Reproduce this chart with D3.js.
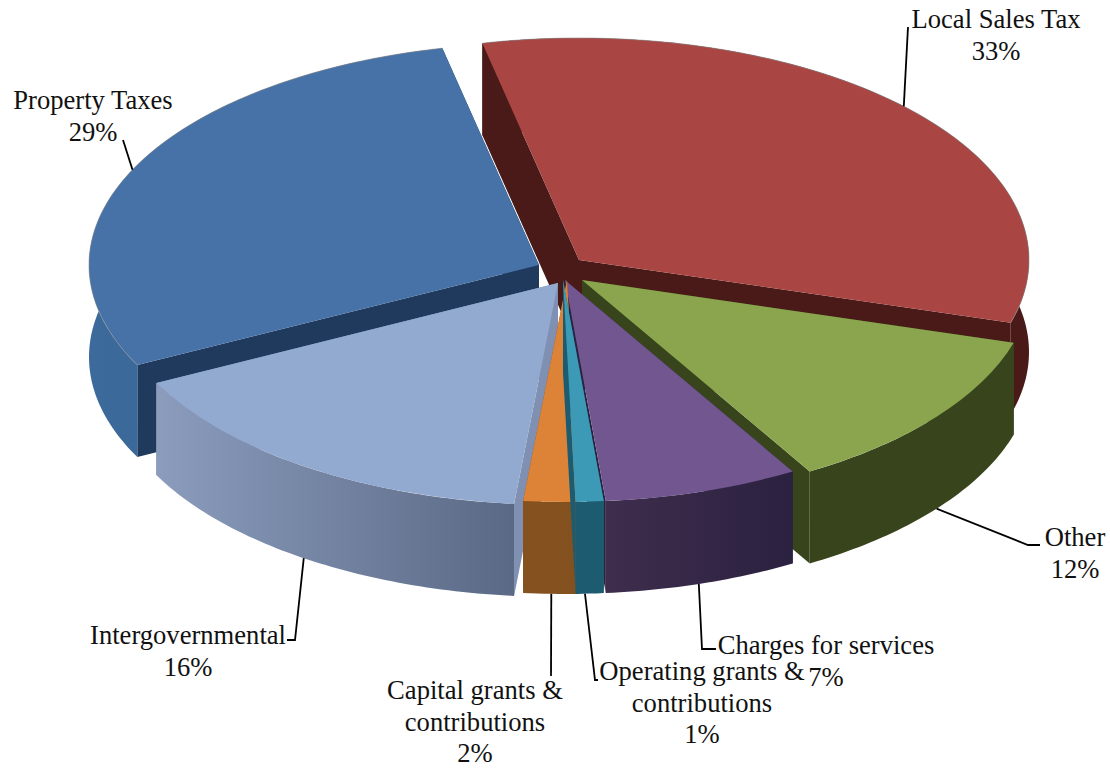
<!DOCTYPE html>
<html>
<head>
<meta charset="utf-8">
<script src="https://cdn.jsdelivr.net/npm/d3@7"></script>
<style>
  html, body { margin: 0; padding: 0; background: #fff; }
  svg { display: block; }
  text { font-family: "Liberation Serif", "Times New Roman", serif; font-size: 26.6px; fill: #111; }
</style>
</head>
<body>
<svg id="chart" width="1110" height="768"></svg>
<script>
// Revenue shares, clockwise from the top of the pie
const categories = ["Local Sales Tax", "Other", "Charges for services",
  "Operating grants & contributions", "Capital grants & contributions",
  "Intergovernmental", "Property Taxes"];
const percents = [33, 12, 7, 1, 2, 16, 29];

// Face colours
const topColors  = ["#a94542", "#8aa54d", "#71568f", "#3c9ab6", "#dd8338", "#92a9d0", "#4672a8"];
const wallColors = ["#4a1a18", "#38451c", "#2b2140", "#1d5c70", "#83501f", "#7f90b2", "#1f3a5c"];
const sideFrom   = ["#4a1a18", "#38451c", "#3f2d4d", "#1d5c70", "#85521f", "#8b9cbd", "#3c6a9b"];
const sideTo     = ["#4a1a18", "#38451c", "#2b2140", "#1d5c70", "#83501f", "#5a6985", "#33608f"];

// Exploded position of each wedge tip
const tipX = [579, 582, 565, 563, 567, 558, 539];
const tipY = [260, 280, 280, 280, 280, 283, 265];

// Label layout: bend of the leader, end of the leader, text anchor, line breaks
const labelLines = [
  ["Local Sales Tax", "33%"], ["Other", "12%"], ["Charges for services", "7%"],
  ["Operating grants &", "contributions", "1%"], ["Capital grants &", "contributions", "2%"],
  ["Intergovernmental", "16%"], ["Property Taxes", "29%"]
];
const labelAt = [[996, 28], [1075, 546], [826, 654], [702, 680], [475, 699], [188, 644], [93, 109]];
const leaderPts = [
  [[908, 27]], [[1028, 545], [1040, 545]], [[702, 649], [716, 649]],
  [[595, 680], [598, 680]], [[551, 676]], [[295, 640], [287, 640]], [[123, 140]]
];
// Where the leader leaves the rim, in degrees away from the wedge's middle,
// and whether it leaves from the top edge or from the bottom of the side
const leaderNudge = [-0.8, 0, 0.5, 0.6, 0, 0, 0];
const onTopRim = [true, false, false, false, false, false, true];

const rx = 450, ry = 222, depth = 92, lineGap = 31.5;
const startAngle = -12.4 * Math.PI / 180;

const svg = d3.select("#chart");
const defs = svg.append("defs");

const pie = d3.pie().sort(null).startAngle(startAngle).endAngle(startAngle + 2 * Math.PI);
const wedges = pie(percents).map((d, i) => ({ ...d, i, a0: d.startAngle, a1: d.endAngle }));

const rim = (i, a, dy = 0) => [tipX[i] + rx * Math.sin(a), tipY[i] - ry * Math.cos(a) + dy];
const polyline = d3.line();

function rimPoints(i, a0, a1, dy) {
  const n = Math.max(2, Math.ceil((a1 - a0) * 60));
  return d3.range(n + 1).map(k => rim(i, a0 + (a1 - a0) * k / n, dy));
}

// Painter's order: far wedges first, near wedges last
const paintOrder = [0, 6, 1, 2, 5, 4, 3];
const slices = svg.selectAll("g.slice")
  .data(paintOrder.map(i => wedges[i]))
  .join("g").attr("class", "slice");

const faceArc = d3.arc().innerRadius(0).outerRadius(rx);
const hasBackEdge = [true, false, false, false, false, false, true];

slices.each(function (d) {
  const g = d3.select(this), i = d.i;
  const tip = [tipX[i], tipY[i]];
  const tipDown = [tip[0], tip[1] + depth];

  // Radial walls exposed by the explosion
  [d.a0, d.a1].forEach(a => {
    g.append("path")
      .attr("d", polyline([tip, rim(i, a), rim(i, a, depth), tipDown]) + "Z")
      .attr("fill", wallColors[i]);
  });

  // Outer curved side, shaded left to right
  const xs = rimPoints(i, d.a0, d.a1, 0).map(p => p[0]);
  const grad = defs.append("linearGradient")
    .attr("id", "side" + i)
    .attr("gradientUnits", "userSpaceOnUse")
    .attr("x1", d3.min(xs)).attr("x2", d3.max(xs)).attr("y1", 0).attr("y2", 0);
  grad.append("stop").attr("offset", 0).attr("stop-color", sideFrom[i]);
  grad.append("stop").attr("offset", 1).attr("stop-color", sideTo[i]);

  const band = rimPoints(i, d.a0, d.a1, 0)
    .concat(rimPoints(i, d.a0, d.a1, depth).reverse());
  g.append("path").attr("d", polyline(band) + "Z").attr("fill", `url(#side${i})`);

  // Top face: a circular wedge flattened into the ellipse
  g.append("path")
    .attr("transform", `translate(${tip[0]},${tip[1]}) scale(1,${ry / rx})`)
    .attr("d", faceArc({ startAngle: d.a0, endAngle: d.a1 }))
    .attr("fill", topColors[i]);

  // Faint grey line along the far edge of the two back wedges
  if (hasBackEdge[i]) {
    g.append("path")
      .attr("d", polyline(rimPoints(i, d.a0, d.a1, 0)))
      .attr("fill", "none")
      .attr("stroke", "#8c8c8c")
      .attr("stroke-opacity", 0.6)
      .attr("stroke-width", 1);
  }
});

// Leader lines start on the rim near the middle of each wedge
svg.append("g").selectAll("path")
  .data(wedges)
  .join("path")
  .attr("fill", "none")
  .attr("stroke", "#000")
  .attr("stroke-width", 1.8)
  .attr("d", d => {
    const mid = (d.a0 + d.a1) / 2 + leaderNudge[d.i] * Math.PI / 180;
    return polyline([rim(d.i, mid, onTopRim[d.i] ? 0 : depth), ...leaderPts[d.i]]);
  });

// Category name and percentage
svg.append("g").selectAll("text")
  .data(wedges)
  .join("text")
  .attr("text-anchor", "middle")
  .attr("x", d => labelAt[d.i][0])
  .attr("y", d => labelAt[d.i][1])
  .each(function (d) {
    d3.select(this).selectAll("tspan")
      .data(labelLines[d.i])
      .join("tspan")
      .attr("x", labelAt[d.i][0])
      .attr("dy", (t, k) => k ? lineGap : 0)
      .text(t => t);
  });
</script>
</body>
</html>
